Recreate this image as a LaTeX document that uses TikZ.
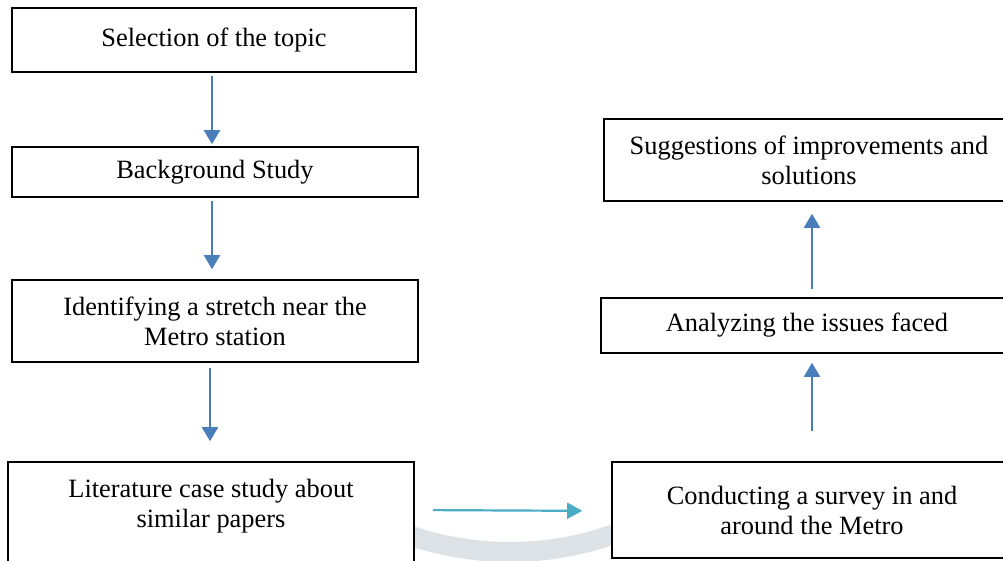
\documentclass[tikz,border=0pt]{standalone}
\usepackage{fontspec}
\setmainfont{Liberation Serif}
\usetikzlibrary{arrows.meta}
\begin{document}
\begin{tikzpicture}[x=1pt,y=-1pt,
  box/.style={draw=black, line width=1.6pt, fill=white, inner sep=0pt, align=center,
    font=\fontsize{26.4}{30}\selectfont},
  txt/.style={inner sep=0pt, align=center, font=\fontsize{26.4}{30}\selectfont},
  flow/.style={draw=arrowblue, line width=2.2pt, -{Triangle[length=14pt,width=16pt]}},
  flowteal/.style={draw=arrowteal, line width=2.2pt, -{Triangle[length=15pt,width=16pt]}}]
\definecolor{arrowblue}{HTML}{4A7EBB}
\definecolor{arrowteal}{HTML}{4BACC6}
\definecolor{wmgrey}{HTML}{DDE2E6}
\useasboundingbox (0,0) rectangle (1003,561);
\clip (0,0) rectangle (1003,561);
\fill[white] (0,0) rectangle (1003,561);
% faint watermark arc
\draw[wmgrey, line width=20pt] (510,240) ++(60:312) arc[start angle=60, end angle=120, radius=312];
% boxes
\node[box, minimum width=404pt, minimum height=64pt] (b1) at (214,40) {Selection of the topic};
\node[box, minimum width=406pt, minimum height=50pt] (b2) at (215,172) {Background Study};
\node[box, minimum width=406pt, minimum height=82pt] (b3) at (215,321) {Identifying a stretch near the\\Metro station};
\node[box, minimum width=406pt, minimum height=108pt] (b4) at (211,516) {};
\node[txt] (t4) at (211,506) {Literature case study about\\similar papers};
\node[box, minimum width=400pt, minimum height=96pt] (b5) at (812,510) {Conducting a survey in and\\around the Metro};
\node[box, minimum width=412pt, minimum height=55pt] (b6) at (807,325.5) {Analyzing the issues faced};
\node[box, minimum width=410pt, minimum height=82pt] (b7) at (809,160) {Suggestions of improvements and\\solutions};
% connectors
\draw[flow, shorten <=3pt, shorten >=2pt] ([xshift=-2pt]b1.south) -- ([xshift=-3pt]b2.north);
\draw[flow, shorten <=3pt, shorten >=10pt] ([xshift=-3pt]b2.south) -- ([xshift=-3pt]b3.north);
\draw[flow, shorten <=5pt, shorten >=20pt] ([xshift=-5pt]b3.south) -- ([xshift=-1pt]b4.north);
\draw[flowteal, shorten <=18pt, shorten >=29pt] ([yshift=6pt]b4.east) -- ([yshift=-1pt]b5.west);
\draw[flow, shorten <=30pt, shorten >=9pt] (b5.north) -- ([xshift=5pt]b6.south);
\draw[flow, shorten <=8pt, shorten >=12pt] ([xshift=5pt]b6.north) -- ([xshift=3pt]b7.south);
\end{tikzpicture}
\end{document}
